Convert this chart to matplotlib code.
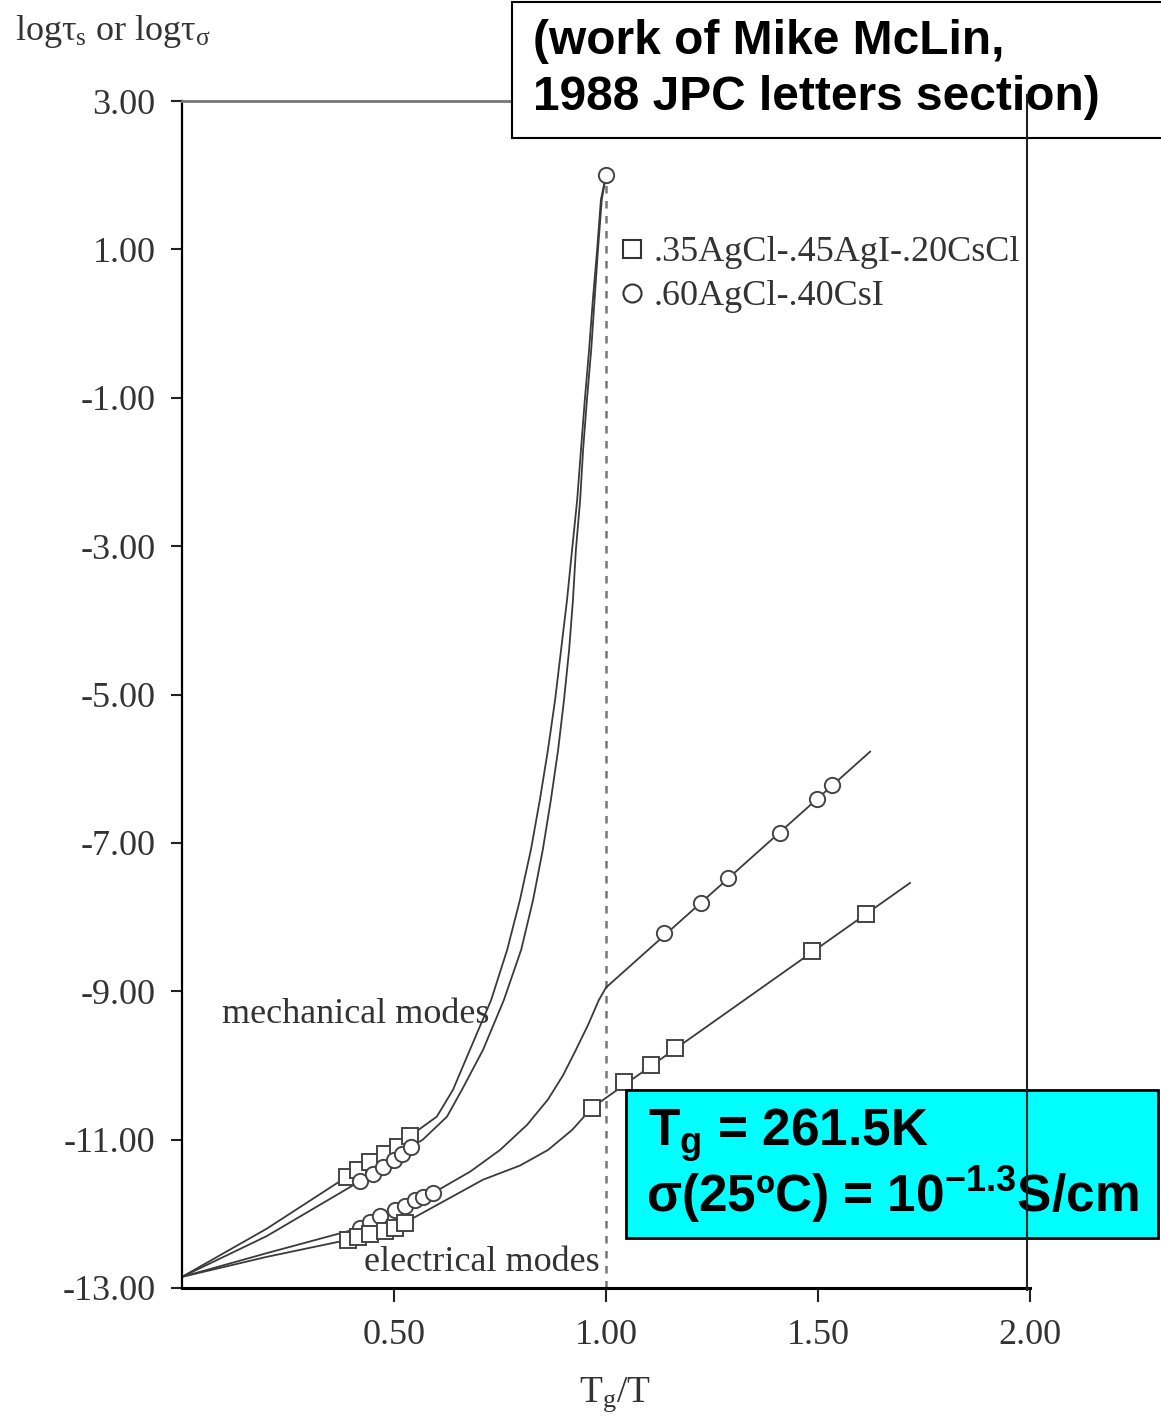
import matplotlib
matplotlib.use("Agg")
import matplotlib.pyplot as plt
from matplotlib.lines import Line2D
from matplotlib.patches import Rectangle
import numpy as np

# curves (x = Tg/T, y = log tau)
mech_sq_x = [0.0, 0.2, 0.389, 0.479, 0.538, 0.601, 0.639, 0.679, 0.729, 0.767, 0.797,
             0.823, 0.844, 0.863, 0.880, 0.894, 0.908, 0.920, 0.932, 0.941, 0.950,
             0.960, 0.969, 0.979, 0.988, 1.0]
mech_sq_y = [-12.85, -12.2, -11.5, -11.2, -10.95, -10.69, -10.33, -9.79, -9.12, -8.44, -7.77,
             -7.09, -6.42, -5.75, -5.07, -4.40, -3.73, -3.05, -2.38, -1.70, -1.03,
             -0.36, 0.32, 0.99, 1.67, 2.0]
mech_ci_x = [0.0, 0.2, 0.42, 0.54, 0.568, 0.625, 0.660, 0.710, 0.759, 0.800, 0.828,
             0.851, 0.870, 0.887, 0.901, 0.913, 0.922, 0.929, 0.939, 0.946, 0.955,
             0.965, 0.973, 0.981, 0.990, 1.0]
mech_ci_y = [-12.85, -12.3, -11.56, -11.1, -11.0, -10.69, -10.33, -9.79, -9.12, -8.44, -7.77,
             -7.09, -6.42, -5.75, -5.07, -4.40, -3.73, -3.05, -2.38, -1.70, -1.03,
             -0.36, 0.32, 0.99, 1.67, 2.0]
elec_ci_x = [0.0, 0.2, 0.42, 0.592, 0.68, 0.75, 0.814, 0.863, 0.899, 0.929, 0.958, 0.983, 1.0, 1.623]
elec_ci_y = [-12.85, -12.53, -12.19, -11.72, -11.43, -11.14, -10.80, -10.46, -10.13, -9.79,
             -9.45, -9.12, -8.95, -5.77]
elec_sq_x = [0.0, 0.2, 0.392, 0.538, 0.71, 0.797, 0.863, 0.92, 0.967, 1.717]
elec_sq_y = [-12.85, -12.58, -12.35, -12.08, -11.54, -11.35, -11.14, -10.87, -10.57, -7.54]

# measured points
mech_sq_pts_x = [0.389, 0.415, 0.443, 0.479, 0.509, 0.538]
mech_sq_pts_y = [-11.50, -11.41, -11.30, -11.20, -11.10, -10.95]
mech_ci_pts_x = [0.42, 0.45, 0.475, 0.50, 0.52, 0.54, 1.0]
mech_ci_pts_y = [-11.56, -11.46, -11.37, -11.28, -11.19, -11.10, 2.0]
elec_ci_pts_x = [0.42, 0.443, 0.467, 0.502, 0.526, 0.55, 0.568, 0.592,
                 1.137, 1.224, 1.288, 1.41, 1.498, 1.533]
elec_ci_pts_y = [-12.19, -12.11, -12.03, -11.95, -11.89, -11.82, -11.77, -11.72,
                 -8.21, -7.81, -7.47, -6.87, -6.41, -6.22]
elec_sq_pts_x = [0.392, 0.415, 0.443, 0.479, 0.502, 0.526,
                 0.967, 1.042, 1.106, 1.163, 1.486, 1.613]
elec_sq_pts_y = [-12.35, -12.31, -12.27, -12.23, -12.19, -12.12,
                 -10.57, -10.22, -10.0, -9.76, -8.46, -7.96]

tg_ratio = 1.0
y_ticks = np.arange(-13, 4, 2)
x_ticks = [0.5, 1.0, 1.5, 2.0]
legend_labels = [".35AgCl-.45AgI-.20CsCl", ".60AgCl-.40CsI"]

W, H = 1161, 1426
fig = plt.figure(figsize=(W / 100, H / 100), dpi=100)
ax = fig.add_axes([182 / W, 1 - 1288 / H, 848 / W, (1288 - 101) / H])

serif = "Liberation Serif"
ink = "#333333"
lc = "#3a3a3a"

for xs, ys in [(mech_sq_x, mech_sq_y), (mech_ci_x, mech_ci_y),
               (elec_ci_x, elec_ci_y), (elec_sq_x, elec_sq_y)]:
    ax.plot(xs, ys, color=lc, lw=1.3)

mk = dict(ls="none", mfc="white", mec="#444444", mew=1.4, ms=11, zorder=3)
ax.plot(mech_sq_pts_x, mech_sq_pts_y, marker="s", **mk)
ax.plot(mech_ci_pts_x, mech_ci_pts_y, marker="o", **mk)
ax.plot(elec_ci_pts_x, elec_ci_pts_y, marker="o", **mk)
ax.plot(elec_sq_pts_x, elec_sq_pts_y, marker="s", **mk)

ax.axvline(tg_ratio, ymin=0, ymax=(2.0 + 13) / 16, color="#777777", lw=1.8,
           ls=(0, (3, 3)), zorder=1)

ax.set_xlim(0, 2.0)
ax.set_ylim(-13, 3)
ax.set_yticks(y_ticks)
ax.set_yticklabels([f"{v:.2f}" for v in y_ticks])
ax.set_xticks(x_ticks)
ax.set_xticklabels([f"{v:.2f}" for v in x_ticks])
ax.tick_params(axis="y", direction="out", length=8, width=1.5, pad=11,
               labelsize=26, labelcolor=ink, colors="#222222")
ax.tick_params(axis="x", direction="out", length=10, width=1.5, pad=12,
               labelsize=26, labelcolor=ink, colors="#222222")
for lab in ax.get_xticklabels() + ax.get_yticklabels():
    lab.set_fontfamily(serif)
ax.spines["right"].set_visible(False)
ax.spines["top"].set_color("#777777")
ax.spines["top"].set_linewidth(2)
ax.spines["left"].set_linewidth(1.6)
ax.spines["bottom"].set_linewidth(2.2)

ax.text(0.095, -9.32, "mechanical modes", family=serif, fontsize=26, color=ink,
        va="center")
ax.text(0.43, -12.65, "electrical modes", family=serif, fontsize=26, color=ink,
        va="center")

handles = [Line2D([], [], ls="none", marker="s", ms=13, mfc="white", mec=ink, mew=1.5),
           Line2D([], [], ls="none", marker="o", ms=13, mfc="white", mec=ink, mew=1.5)]
fig.legend(handles, legend_labels, loc="upper left",
           bbox_to_anchor=(618 / W, 1 - 236 / H), frameon=False,
           prop={"family": serif, "size": 26}, handlelength=0.8,
           handletextpad=0.2, labelspacing=0.3, borderpad=0, borderaxespad=0,
           labelcolor=ink)

fig.text(15 / W, 1 - 32 / H, r"log$\mathregular{τ_s}$ or log$\mathregular{τ_σ}$",
         family=serif, fontsize=26, color=ink, va="center")
fig.text(615 / W, 1 - 1395 / H, r"$\mathregular{T_g}$/T", family=serif,
         fontsize=27, color=ink, ha="center", va="center")

# annotation boxes
fig.add_artist(Rectangle((512 / W, 1 - 138 / H), 660 / W, 136 / H,
                         transform=fig.transFigure, facecolor="white",
                         edgecolor="black", lw=1.5, zorder=2))
fig.text(533 / W, 1 - 42 / H, "(work of Mike McLin,", family="Liberation Sans",
         weight="bold", fontsize=34.5, va="center", zorder=3)
fig.text(533 / W, 1 - 98 / H, "1988 JPC letters section)", family="Liberation Sans",
         weight="bold", fontsize=34.5, va="center", zorder=3)

fig.add_artist(Rectangle((626 / W, 1 - 1238 / H), 532 / W, 148 / H,
                         transform=fig.transFigure, facecolor="#00FFFF",
                         edgecolor="black", lw=2, zorder=2))
fig.text(648 / W, 1 - 1135 / H, r"$\mathregular{T_g}$ = 261.5K", family="Liberation Sans",
         weight="bold", fontsize=37, va="center", zorder=3)
fig.text(646 / W, 1 - 1195 / H, r"σ(25ºC) = 10$\mathregular{^{-1.3}}$S/cm",
         family="Liberation Sans", weight="bold", fontsize=37, va="center", zorder=3)

fig.add_artist(Line2D([1027 / W, 1027 / W], [1 - 95 / H, 1 - 1290 / H],
                      transform=fig.transFigure, color="#222222", lw=1.5, zorder=5))

fig.savefig("out.png", dpi=100)
